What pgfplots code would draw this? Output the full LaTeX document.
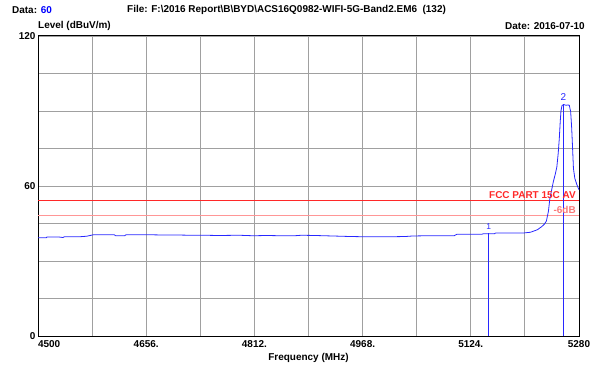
\documentclass[border=0pt]{standalone}
\usepackage{pgfplots}
\pgfplotsset{compat=1.18}
\usepackage{fontspec}
\setmainfont{Liberation Sans}
\definecolor{gridc}{RGB}{160,160,160}
\definecolor{tracec}{RGB}{40,40,255}
\definecolor{limc}{RGB}{255,40,40}
\definecolor{sixc}{RGB}{255,150,150}
\definecolor{sixt}{RGB}{250,120,120}
\begin{document}
\begin{tikzpicture}
\path[use as bounding box] (-38bp,-31bp) rectangle (559bp,336bp);
\begin{axis}[
  scale only axis,
  width=541bp, height=300bp,
  at={(0,0)}, anchor=south west,
  xmin=4500, xmax=5280, ymin=0, ymax=120,
  xtick={4500,4578,4656,4734,4812,4890,4968,5046,5124,5202,5280},
  xticklabels={\makebox[0pt][l]{4500},,4656.,,4812.,,4968.,,5124.,,5280},
  ytick={0,15,30,45,60,75,90,105,120},
  yticklabels={0,,,,60,,,,120},
  major tick length=0pt,
  grid=major,
  major grid style={gridc, line width=0.9bp},
  axis line style={black, line width=1bp},
  /pgf/number format/assume math mode=true,
  ticklabel style={font=\fontsize{10}{11}\selectfont\bfseries},
  xticklabel style={yshift=-1bp},
  yticklabel style={xshift=1bp},
  xlabel={Frequency (MHz)},
  xlabel style={font=\fontsize{10}{11}\selectfont\bfseries, yshift=1bp},
  clip=false,
]
% limit lines
\addplot[limc, line width=1bp] coordinates {(4500,54) (5280,54)};
\addplot[sixc, line width=1bp] coordinates {(4500,48) (5280,48)};
% trace
\addplot[tracec, line width=0.8bp] coordinates {
(4500,39.3) (4512,39.3) (4513,39.6) (4530,39.6) (4536,39.4) (4538,39.7)
(4560,39.7) (4570,39.9) (4580,40.5) (4610,40.5) (4612,40.1) (4625,40.1)
(4627,40.5) (4660,40.5) (4680,40.4) (4700,40.4) (4720,40.3) (4740,40.3)
(4760,40.2) (4790,40.3) (4810,40.1) (4830,40.2) (4850,40.1) (4870,40.1)
(4880,40.3) (4900,40.2) (4925,40.0) (4950,39.8) (4970,39.7) (4990,39.7)
(5010,39.7) (5030,39.8) (5040,40.0) (5060,40.1) (5100,40.1) (5104,40.7)
(5140,40.7) (5142,40.9) (5158,40.9) (5160,41.2) (5200,41.2) (5210,41.5)
(5215,42) (5220,42.5) (5226,43.7) (5230,44.7) (5233,46) (5236,50)
(5238,55) (5241,59) (5243,61.7) (5246,65) (5248,67.5) (5250,73)
(5251.6,79) (5253,86) (5254,90) (5255.5,92.2) (5258,92.6) (5261,92.3)
(5264,92.4) (5266,92.3) (5268,89.7) (5269.5,83) (5271,73.5) (5272,67)
(5274,63) (5277,60.5) (5280,58.5)
};
% markers
\addplot[tracec, line width=0.9bp] coordinates {(5150,0) (5150,41)};
\addplot[tracec, line width=0.9bp] coordinates {(5257.5,0) (5257.5,92.6)};
\node[tracec, font=\fontsize{8.5}{9}\selectfont, anchor=south] at (axis cs:5150,41.3) {1};
\node[tracec, font=\fontsize{10}{11}\selectfont, anchor=south] at (axis cs:5257.5,92.8) {2};
% limit labels
\node[limc, font=\fontsize{10}{11}\selectfont\bfseries, anchor=south east, inner sep=1bp] at (axis cs:5277,54.4) {FCC PART 15C AV};
\node[sixt, font=\fontsize{10}{11}\selectfont\bfseries, anchor=south east, inner sep=1bp] at (axis cs:5277,48.4) {-6dB};
\end{axis}
% header texts
\node[anchor=west, inner sep=0pt, font=\fontsize{10}{11}\selectfont\bfseries] at (-26bp,326bp) {Data: \textcolor{blue}{60}};
\node[anchor=west, inner sep=0pt, font=\fontsize{10}{11}\selectfont\bfseries] at (89bp,326bp) {File: F:\textbackslash 2016 Report\textbackslash B\textbackslash BYD\textbackslash ACS16Q0982-WIFI-5G-Band2.EM6\ \ (132)};
\node[anchor=west, inner sep=0pt, font=\fontsize{10}{11}\selectfont\bfseries] at (0bp,310bp) {Level (dBuV/m)};
\node[anchor=east, inner sep=0pt, font=\fontsize{10}{11}\selectfont\bfseries] at (547bp,310bp) {Date: 2016-07-10};
\end{tikzpicture}
\end{document}
